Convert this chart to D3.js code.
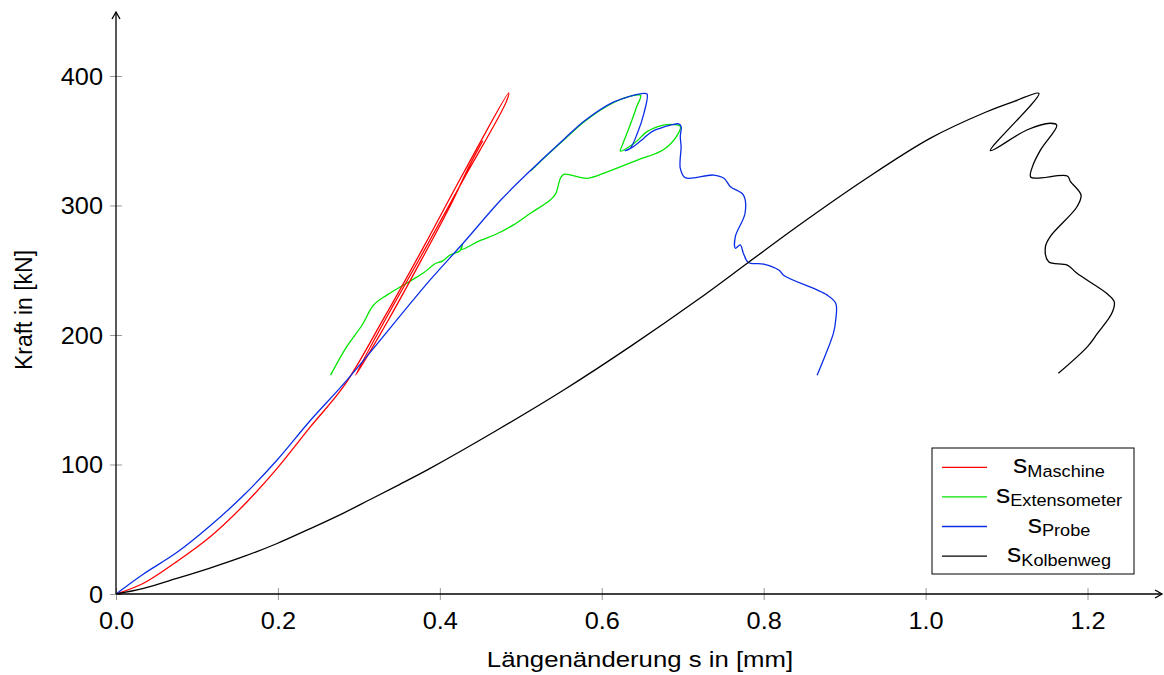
<!DOCTYPE html>
<html>
<head>
<meta charset="utf-8">
<script src="https://cdn.jsdelivr.net/npm/d3@7"></script>
<style>
  body { margin: 0; background: #fff; }
  svg { display: block; font-family: "Liberation Sans", Arial, sans-serif; }
</style>
</head>
<body>
<svg id="chart" width="1164" height="675"></svg>
<script>
// tick labels
var xTicks = [0, 0.2, 0.4, 0.6, 0.8, 1.0, 1.2];
var yTicks = [0, 100, 200, 300, 400];

// s_Maschine: loading, unloading, reloading
var maschS = [0, 0.034, 0.075, 0.116, 0.158, 0.199, 0.24, 0.282, 0.33, 0.38, 0.43, 0.485,
              0.482, 0.429, 0.376, 0.331, 0.296,
              0.335, 0.379, 0.413, 0.436, 0.453];
var maschF = [0, 8.3, 25, 44, 68.7, 97, 129, 161, 212, 268, 326, 387,
              380, 320, 260, 210, 169,
              210, 260, 300, 330, 350];

// s_Extensometer
var extS = [0.265, 0.285, 0.304, 0.318, 0.335, 0.359, 0.38, 0.394, 0.403, 0.413, 0.425, 0.428, 0.426,
            0.45, 0.47, 0.491, 0.512, 0.536, 0.543, 0.549, 0.553, 0.582, 0.607, 0.644, 0.676, 0.693, 0.697,
            0.68, 0.67, 0.656, 0.64, 0.623, 0.625, 0.635, 0.643, 0.648, 0.64, 0.615, 0.58, 0.553, 0.52, 0.512];
var extF = [169, 191, 207.7, 223, 231, 240, 248, 255, 257, 262, 265, 270, 266,
            273, 278, 285, 294, 304, 309, 321, 324, 321, 326, 335, 343, 354, 361,
            362.5, 361, 357, 348, 342, 346, 362, 376, 385, 385, 379.5, 365.5, 350.5, 331.5, 326.5];

// s_Probe
var probeS = [0, 0.034, 0.075, 0.116, 0.158, 0.199, 0.24, 0.285, 0.388, 0.429, 0.475, 0.512, 0.553, 0.58,
              0.615, 0.652, 0.656, 0.652, 0.644, 0.635, 0.629, 0.639, 0.652, 0.662, 0.672, 0.685, 0.695,
              0.698, 0.697, 0.698, 0.697, 0.703, 0.738, 0.751, 0.759, 0.775, 0.777, 0.765, 0.765, 0.771,
              0.775, 0.781, 0.8, 0.819, 0.825, 0.878, 0.889, 0.889, 0.886, 0.872, 0.866];
var probeF = [0, 15.5, 32, 52.5, 76.4, 103.5, 134, 165, 242.5, 271, 304, 327, 351, 366,
              380, 386.6, 386, 371, 355.8, 344, 342.3, 345.4, 352, 357, 359.6, 362, 363,
              361, 353, 345.4, 328.7, 321.5, 323.5, 321, 314.5, 308, 294, 276, 267, 269.5,
              263, 256, 254.8, 250, 246, 231, 224.5, 211.6, 201, 178, 169];

// s_Kolbenweg
var kolbS = [0, 0.034, 0.075, 0.116, 0.158, 0.199, 0.24, 0.281, 0.314, 0.35, 0.388, 0.471, 0.553, 0.635,
             0.718, 0.781, 0.841, 0.924, 1.006, 1.074, 1.11, 1.14,
             1.08, 1.125, 1.154, 1.162, 1.142, 1.132, 1.13, 1.175, 1.179, 1.192, 1.187, 1.154, 1.148,
             1.152, 1.175, 1.187, 1.224, 1.233, 1.23, 1.212, 1.2, 1.164];
var kolbF = [0, 4.4, 12, 20, 29, 39, 50.5, 62.5, 73, 84.5, 97, 126.6, 157.5, 191,
             227, 256, 283.6, 319.7, 352, 372, 380.5, 386.6,
             342.3, 358.3, 363.5, 362, 342.9, 330, 321.8, 322.8, 318.4, 308, 299, 276, 268,
             256.6, 254, 247.6, 232, 225.7, 216.7, 201, 191, 170.4];

var seriesNames = ["Maschine", "Extensometer", "Probe", "Kolbenweg"];
var seriesColors = ["#ff0000", "#00e600", "#0a2ee6", "#000000"];

var svg = d3.select("#chart");

var x = d3.scaleLinear().domain([0, 1.292]).range([116, 1162]);
var y = d3.scaleLinear().domain([0, 449.4]).range([594, 12]);

// curves (green first so the blue lies over it)
function zip(a, b) { return a.map(function(v, i){ return [v, b[i]]; }); }
var line = d3.line()
        .x(function(d){ return x(d[0]); })
        .y(function(d){ return y(d[1]); })
        .curve(d3.curveCatmullRom.alpha(0.5));

var drawOrder = [
    {data: zip(extS, extF), color: seriesColors[1]},
    {data: zip(maschS, maschF), color: seriesColors[0]},
    {data: zip(probeS, probeF), color: seriesColors[2]},
    {data: zip(kolbS, kolbF), color: seriesColors[3]}
];
drawOrder.forEach(function(s){
    svg.append('path')
            .datum(s.data)
            .attr('d', line)
            .attr('fill', 'none')
            .attr('stroke', s.color)
            .attr('stroke-width', 1.3)
            .attr('stroke-linejoin', 'round');
});

// x axis
var gx = svg.append('g')
        .attr('transform', 'translate(0,' + y(0) + ')')
        .call(d3.axisBottom(x).tickValues(xTicks).tickFormat(d3.format('.1f')).tickSizeOuter(0).tickSizeInner(6));
gx.select('.domain').remove();
gx.selectAll('.tick line').attr('y1', -6).attr('y2', 6).attr('stroke', '#999');
gx.selectAll('.tick text')
        .attr('y', null).attr('dy', null)
        .attr('transform', 'translate(0,35) scale(1.1,1)')
        .attr('font-size', 23).attr('fill', '#000')
        .attr('font-family', '"Liberation Sans", Arial, sans-serif');

// y axis
var gy = svg.append('g')
        .attr('transform', 'translate(' + x(0) + ',0)')
        .call(d3.axisLeft(y).tickValues(yTicks).tickFormat(d3.format('d')).tickSizeOuter(0).tickSizeInner(6));
gy.select('.domain').remove();
gy.selectAll('.tick line').attr('x1', -6).attr('x2', 6).attr('stroke', '#999');
gy.selectAll('.tick text')
        .attr('x', null).attr('dy', null)
        .attr('transform', 'translate(-13,8.5) scale(1.1,1)')
        .attr('text-anchor', 'end')
        .attr('font-size', 23).attr('fill', '#000')
        .attr('font-family', '"Liberation Sans", Arial, sans-serif');

// axis lines with open arrowheads
var x0 = x(0), y0 = y(0), xEnd = x.range()[1], yEnd = y.range()[1];
svg.append('line').attr('x1', x0).attr('y1', y0).attr('x2', xEnd).attr('y2', y0)
        .attr('stroke', '#000').attr('stroke-width', 1.3);
svg.append('line').attr('x1', x0).attr('y1', y0).attr('x2', x0).attr('y2', yEnd)
        .attr('stroke', '#000').attr('stroke-width', 1.3);
svg.append('path')
        .attr('d', 'M' + (xEnd - 7) + ',' + (y0 - 4) + 'L' + xEnd + ',' + y0 + 'L' + (xEnd - 7) + ',' + (y0 + 4))
        .attr('fill', 'none').attr('stroke', '#000').attr('stroke-width', 1.3);
svg.append('path')
        .attr('d', 'M' + (x0 - 4) + ',' + (yEnd + 7) + 'L' + x0 + ',' + yEnd + 'L' + (x0 + 4) + ',' + (yEnd + 7))
        .attr('fill', 'none').attr('stroke', '#000').attr('stroke-width', 1.3);

// axis titles
svg.append('text')
        .attr('transform', 'translate(640,667) scale(1.12,1)')
        .attr('text-anchor', 'middle')
        .attr('font-size', 23)
        .text('Längenänderung s in [mm]');

svg.append('text')
        .attr('transform', 'translate(32,310) rotate(-90)')
        .attr('text-anchor', 'middle')
        .attr('font-size', 23)
        .text('Kraft in [kN]');

// legend
var legend = svg.append('g');
legend.append('rect')
        .attr('x', 932).attr('y', 448).attr('width', 202).attr('height', 126)
        .attr('fill', '#fff').attr('stroke', '#000').attr('stroke-width', 1);

seriesNames.forEach(function(name, i){
    var ly = 467.3 + i * 29.6;
    legend.append('line')
            .attr('x1', 942).attr('x2', 987).attr('y1', ly).attr('y2', ly)
            .attr('stroke', seriesColors[i]).attr('stroke-width', 1.3);
    var t = legend.append('text')
            .attr('transform', 'translate(1059,' + (ly + 6) + ') scale(1.1,1)')
            .attr('text-anchor', 'middle');
    t.append('tspan').attr('font-size', 26).text('s');
    t.append('tspan').attr('font-size', 16.5).attr('dy', 3.5).text(name);
});
</script>
</body>
</html>
